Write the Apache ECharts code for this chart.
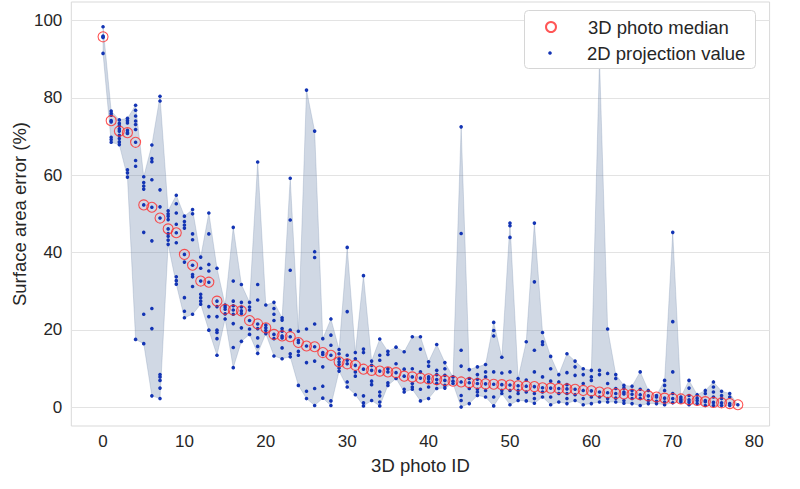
<!DOCTYPE html>
<html>
<head>
<meta charset="utf-8">
<script src="https://cdn.jsdelivr.net/npm/echarts@6/dist/echarts.min.js"></script>
<style>
html,body{margin:0;padding:0;background:#fff;}
#chart{width:800px;height:489px;}
</style>
</head>
<body>
<div id="chart"></div>
<script>
// ---- data ----
const photoIds = Array.from({length: 79}, (_, i) => i);
const medians = [
  95.8, 74.1, 71.4, 71.0, 68.5, 52.3, 51.7, 48.9, 46.1, 45.1,
  39.5, 36.7, 32.6, 32.3, 27.4, 25.3, 25.1, 24.9, 22.4, 21.5,
  20.5, 18.8, 18.4, 18.2, 16.7, 15.8, 15.6, 14.1, 13.4, 11.7,
  11.2, 10.8, 9.8, 9.5, 9.3, 9.1, 8.9, 8.0, 7.8, 7.5,
  7.3, 7.1, 6.9, 6.7, 6.5, 6.3, 6.1, 6.0, 5.9, 5.8,
  5.7, 5.5, 5.4, 5.3, 5.0, 4.9, 4.8, 4.7, 4.6, 4.3,
  4.2, 3.9, 3.7, 3.5, 3.4, 3.3, 3.2, 2.9, 2.6, 2.3,
  2.2, 2.1, 1.9, 1.7, 1.4, 1.2, 1.1, 0.9, 0.6
];
const projections = [
  [98.4, 96.0, 95.8, 95.6, 91.5],
  [76.6, 76.0, 75.5, 74.1, 73.8, 69.8, 69.2, 68.5],
  [74.3, 73.4, 72.8, 72.0, 71.4, 70.3, 69.5, 68.6, 67.9],
  [74.7, 74.1, 73.5, 71.6, 71.0, 70.8, 61.4, 60.6, 59.5],
  [78.1, 76.8, 75.3, 74.0, 73.1, 71.8, 68.5, 63.8, 62.3, 17.5],
  [59.6, 58.1, 57.2, 56.4, 52.3, 45.2, 24.0, 16.4],
  [67.8, 64.3, 63.5, 58.8, 51.7, 43.0, 25.5, 20.3, 2.9],
  [80.4, 79.2, 56.2, 51.8, 48.9, 8.4, 7.8, 6.9, 4.9, 2.2],
  [50.8, 50.0, 49.4, 48.5, 46.1, 44.9, 44.2, 43.2, 42.1],
  [54.8, 52.6, 50.2, 47.3, 45.1, 42.5, 33.7, 32.7, 31.8],
  [49.4, 48.0, 47.1, 46.3, 39.5, 37.5, 28.3, 24.8, 23.1],
  [51.1, 50.0, 44.8, 43.3, 36.7, 34.3, 33.7, 31.2, 24.0],
  [38.8, 35.9, 32.6, 29.2, 28.3, 27.4, 26.6],
  [50.2, 44.8, 36.9, 35.2, 32.3, 26.0, 23.4, 19.9],
  [35.9, 27.4, 26.0, 23.4, 19.9, 19.3, 17.7, 13.4],
  [26.4, 25.9, 25.3, 24.1, 22.8],
  [46.5, 32.6, 27.4, 26.2, 25.1, 24.0, 21.6, 15.4, 10.2],
  [31.7, 27.1, 25.9, 24.9, 24.2, 20.5, 17.0],
  [27.1, 25.9, 25.1, 22.4, 20.2, 18.8],
  [63.4, 31.7, 27.7, 21.5, 20.3, 17.9, 15.7, 13.9],
  [26.4, 21.2, 20.5, 19.8, 19.0],
  [27.1, 25.5, 24.0, 22.4, 18.8, 17.7, 13.2],
  [23.1, 22.5, 20.3, 19.6, 18.4, 17.9, 15.3, 12.5],
  [59.2, 48.4, 35.4, 19.9, 18.2, 13.8, 13.0],
  [19.6, 17.3, 16.7, 14.4, 13.4, 5.6],
  [82.0, 20.2, 15.8, 11.5, 4.1, 2.2],
  [71.4, 40.2, 38.7, 21.5, 15.6, 11.9, 4.8, 0.4],
  [17.7, 14.1, 13.6, 10.4, 5.4, 2.3],
  [22.8, 18.6, 16.0, 13.4, 1.6, 0.4],
  [14.9, 13.8, 12.5, 11.7, 11.0, 10.1, 9.3],
  [41.3, 24.7, 13.4, 12.1, 11.2, 6.5, 5.2],
  [14.1, 12.5, 10.8, 9.1, 8.0, 3.2],
  [34.0, 15.0, 14.1, 9.8, 2.9, 1.1, 0.3],
  [11.9, 10.8, 9.5, 6.7, 5.8, 1.7],
  [17.6, 13.4, 12.1, 9.3, 3.9, 2.9, 1.3, 0.3],
  [14.4, 13.6, 9.9, 9.1, 6.3, 5.6],
  [15.5, 11.2, 8.9, 7.4],
  [14.3, 9.8, 8.0, 4.6, 3.9],
  [18.2, 9.9, 7.8, 6.1, 5.2, 4.6],
  [18.2, 15.0, 9.1, 7.5, 4.6, 1.6],
  [11.7, 10.6, 7.8, 7.3, 6.5, 5.2, 2.2],
  [16.2, 9.5, 8.4, 7.1, 6.1, 4.8],
  [11.5, 9.9, 8.2, 6.9, 5.6, 4.9],
  [7.8, 6.7, 6.1],
  [72.5, 44.9, 14.7, 10.6, 6.5, 3.0, 1.7, 0.0],
  [9.7, 7.4, 6.3, 4.8, 0.9],
  [10.4, 8.4, 7.2, 6.1, 4.6, 3.9, 3.0],
  [11.0, 9.1, 7.8, 6.0, 4.3, 2.6],
  [21.9, 19.8, 18.4, 9.1, 5.9, 2.6, 0.3],
  [12.9, 8.8, 5.8, 4.3, 3.5],
  [47.6, 46.9, 43.9, 9.1, 5.7, 4.3, 2.6, 0.6],
  [7.4, 5.5, 4.3, 3.5, 1.7],
  [16.9, 7.0, 5.4, 3.9, 1.6],
  [47.6, 32.4, 14.7, 9.1, 5.3, 3.5, 2.2, 1.0],
  [19.3, 16.9, 16.2, 7.8, 5.0, 3.9, 2.6],
  [13.1, 9.9, 6.7, 4.9, 2.6, 0.6],
  [8.4, 6.5, 4.8, 3.5, 1.3],
  [13.8, 8.9, 5.8, 4.7, 3.5, 2.2, 0.9],
  [11.9, 10.4, 8.2, 4.6, 3.2, 1.7],
  [9.9, 8.4, 6.1, 4.3, 2.2, 0.6],
  [9.5, 7.8, 6.9, 4.2, 2.6, 0.9],
  [90.0, 9.5, 8.4, 3.9, 2.6, 1.3],
  [20.2, 8.7, 6.1, 3.7, 2.2, 1.3],
  [8.4, 7.4, 4.8, 3.5, 2.3, 1.3],
  [5.6, 4.9, 3.9, 3.4, 1.7, 1.0],
  [5.4, 4.3, 3.3, 2.2, 0.9],
  [9.1, 4.6, 3.2, 2.2, 0.4],
  [4.3, 2.9, 1.7, 0.9],
  [3.0, 2.6, 1.5, 0.9],
  [6.9, 5.6, 4.3, 2.3, 1.3, 0.6],
  [45.2, 22.1, 9.1, 3.5, 2.2, 1.1],
  [2.6, 2.1, 1.7, 1.3],
  [6.9, 4.9, 3.0, 1.9, 1.3, 0.6],
  [3.2, 2.3, 1.7, 0.9],
  [4.3, 3.5, 1.7, 1.4, 0.4],
  [6.5, 5.2, 3.9, 2.6, 1.2, 0.4],
  [4.1, 3.0, 2.2, 1.1, 0.4],
  [3.5, 2.6, 0.9, 0.4],
  [0.6]
];
const xTicks = [0, 10, 20, 30, 40, 50, 60, 70, 80];
const yTicks = [0, 20, 40, 60, 80, 100];

// ---- derived series data ----
const bandRows = photoIds.map((id, i) => [id, Math.min(...projections[i]), Math.max(...projections[i])]);
const medianData = photoIds.map((id, i) => [id, medians[i]]);
const projData = [];
photoIds.forEach((id, i) => projections[i].forEach(v => projData.push([id, v])));

const FONT = '"Liberation Sans", Arial, Helvetica, sans-serif';
const TXT = '#262626';
const BAND = 'rgba(100,125,165,0.30)';

function renderBand(params, api) {
  if (params.dataIndex !== 0) return null;
  const pts = [];
  for (let i = 0; i < bandRows.length; i++) pts.push(api.coord([bandRows[i][0], bandRows[i][2]]));
  for (let i = bandRows.length - 1; i >= 0; i--) pts.push(api.coord([bandRows[i][0], bandRows[i][1]]));
  return {
    type: 'polygon',
    shape: {points: pts},
    style: {fill: BAND, stroke: BAND, lineWidth: 0.8}
  };
}

const chart = echarts.init(document.getElementById('chart'), null, {renderer: 'svg'});
chart.setOption({
  animation: false,
  backgroundColor: '#ffffff',
  textStyle: {fontFamily: FONT},
  grid: {left: 71.3, right: 30.4, top: 2, bottom: 63, show: true, borderColor: '#d9d9d9', borderWidth: 1,
         containLabel: false, outerBoundsMode: 'none'},
  xAxis: {
    type: 'value', min: -3.9, max: 81.9,
    name: '3D photo ID', nameLocation: 'middle', nameGap: 30, nameMoveOverlap: false,
    nameTextStyle: {fontSize: 18.5, color: TXT, fontFamily: FONT},
    axisLine: {show: false}, splitLine: {show: false},
    axisTick: {show: false, customValues: xTicks},
    axisLabel: {customValues: xTicks, fontSize: 17, color: TXT, margin: 7, fontFamily: FONT}
  },
  yAxis: {
    type: 'value', min: -4.9, max: 104.8,
    name: 'Surface area error (%)', nameLocation: 'middle', nameGap: 42, nameMoveOverlap: false,
    nameTextStyle: {fontSize: 18.5, color: TXT, fontFamily: FONT},
    axisLine: {show: false},
    axisTick: {show: false, customValues: yTicks},
    axisLabel: {customValues: yTicks, fontSize: 17, color: TXT, margin: 9, fontFamily: FONT},
    splitLine: {show: true, lineStyle: {color: '#e3e3e3', width: 1}}
  },
  legend: [
    {
      data: ['3D photo median'], left: 545, top: 17.5, orient: 'vertical', padding: 0,
      itemWidth: 10, itemHeight: 10, z: 60,
      textStyle: {fontSize: 18.5, color: TXT, fontFamily: FONT, padding: [0, 0, 0, 27]}
    },
    {
      data: ['2D projection value'], left: 548.2, top: 43.5, orient: 'vertical', padding: 0,
      itemWidth: 3.6, itemHeight: 3.6, z: 60,
      textStyle: {fontSize: 18.5, color: TXT, fontFamily: FONT, padding: [0, 0, 0, 30.2]}
    }
  ],
  graphic: [{
    type: 'rect', z: 50, silent: true,
    shape: {x: 524.5, y: 10.5, width: 231, height: 58, r: 4},
    style: {fill: '#ffffff', stroke: '#d6d6d6', lineWidth: 1}
  }],
  series: [
    {
      name: 'band', type: 'custom', data: bandRows, renderItem: renderBand,
      encode: {x: 0, y: [1, 2]}, silent: true, z: 1, clip: true
    },
    {
      name: '2D projection value', type: 'scatter', data: projData,
      symbol: 'circle', symbolSize: 3.6,
      itemStyle: {color: '#1334b4', opacity: 1}, z: 3
    },
    {
      name: '3D photo median', type: 'scatter', data: medianData,
      symbol: 'circle', symbolSize: 10,
      itemStyle: {color: 'rgba(0,0,0,0)', borderColor: '#ff2a2a', borderWidth: 1.1}, z: 4
    }
  ]
});
</script>
</body>
</html>
